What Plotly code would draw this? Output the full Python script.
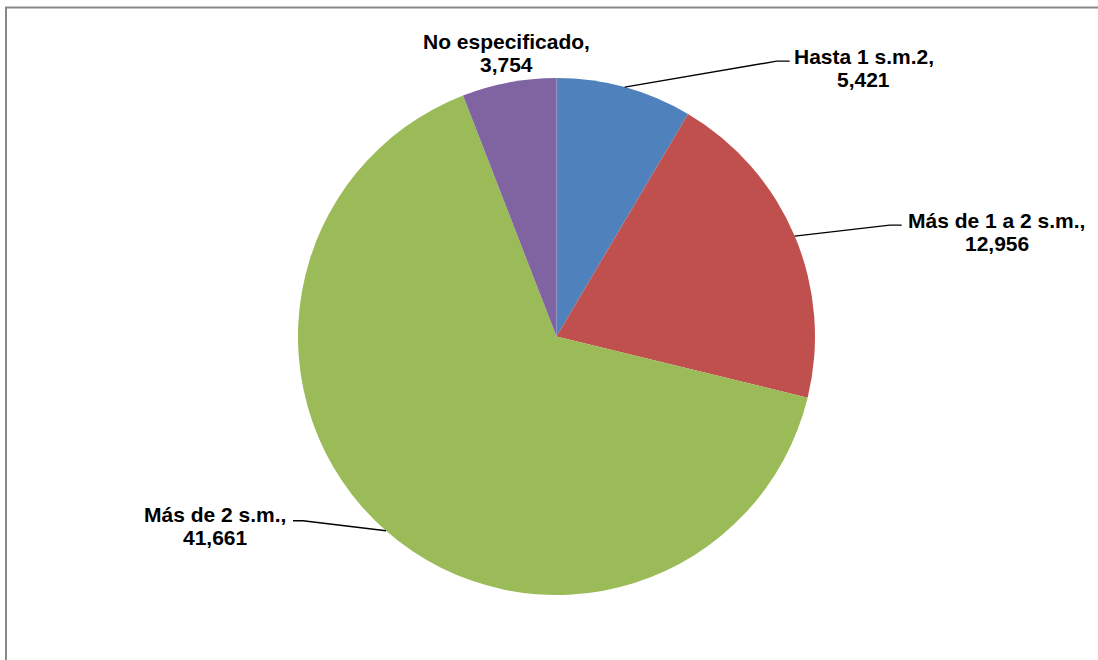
import math
import plotly.graph_objects as go

# ---- data ----
labels = ["Hasta 1 s.m.2", "Más de 1 a 2 s.m.", "Más de 2 s.m.", "No especificado"]
values = [5421, 12956, 41661, 3754]
colors = ["#4F81BD", "#C0504D", "#9BBB59", "#8064A2"]

# ---- layout geometry (pixels) ----
W, H = 1098, 660
CX, CY, R = 556.5, 336.5, 258.5
FONT_SIZE = 21
LINE_GAP = 23

# leader line style per slice: (elbow dx, elbow dy, tail length) or None
leaders = [(152, -26, 13), (95, -11, 12), (-83, -10, -10), None]
# label block centre relative to leader end (or slice edge when no leader)
label_offsets = [(74, 7), (95, 7), (-78, 5), (-2, -29)]


def px(x):
    return x / W


def py(y):
    return 1 - y / H


fig = go.Figure(
    go.Pie(
        labels=labels,
        values=values,
        sort=False,
        direction="clockwise",
        rotation=0,
        marker=dict(colors=colors, line=dict(width=0)),
        textinfo="none",
        hoverinfo="label+value",
        showlegend=False,
        domain=dict(x=[px(CX - R), px(CX + R)], y=[py(CY + R), py(CY - R)]),
    )
)

font = dict(family="Liberation Sans, Arial, sans-serif", size=FONT_SIZE, color="black")
total = sum(values)
cum = 0
shapes = []
annotations = []
for i, (lab, v) in enumerate(zip(labels, values)):
    mid = (cum + v / 2) / total * 2 * math.pi
    cum += v
    ex = CX + R * math.sin(mid)
    ey = CY - R * math.cos(mid)
    ldr = leaders[i]
    dx, dy = label_offsets[i]
    if ldr is not None:
        bx, by = ex + ldr[0], ey + ldr[1]
        tx, ty = bx + ldr[2], by
        shapes.append(dict(
            type="path", xref="paper", yref="paper",
            path=f"M {px(ex)} {py(ey)} L {px(bx)} {py(by)} L {px(tx)} {py(ty)}",
            line=dict(color="black", width=1.4),
        ))
        lx, ly = tx + dx, ty + dy
    else:
        lx, ly = ex + dx, ey + dy
    for k, line in enumerate([f"{lab},", f"{v:,}"]):
        annotations.append(dict(
            x=px(lx), y=py(ly + (k - 0.5) * LINE_GAP), xref="paper", yref="paper",
            text=f"<b>{line}</b>", showarrow=False,
            xanchor="center", yanchor="middle", font=font,
        ))

# chart border
shapes.append(dict(
    type="rect", xref="paper", yref="paper",
    x0=px(6), y0=py(672), x1=px(1108), y1=py(7.5),
    line=dict(color="#888888", width=2), fillcolor="rgba(0,0,0,0)",
))

fig.update_layout(
    width=W, height=H,
    margin=dict(l=0, r=0, t=0, b=0),
    paper_bgcolor="white",
    plot_bgcolor="white",
    shapes=shapes,
    annotations=annotations,
)

fig.write_html(
    "out.html",
    config={"displayModeBar": False},
    post_script="document.body.style.margin='0';",
)
